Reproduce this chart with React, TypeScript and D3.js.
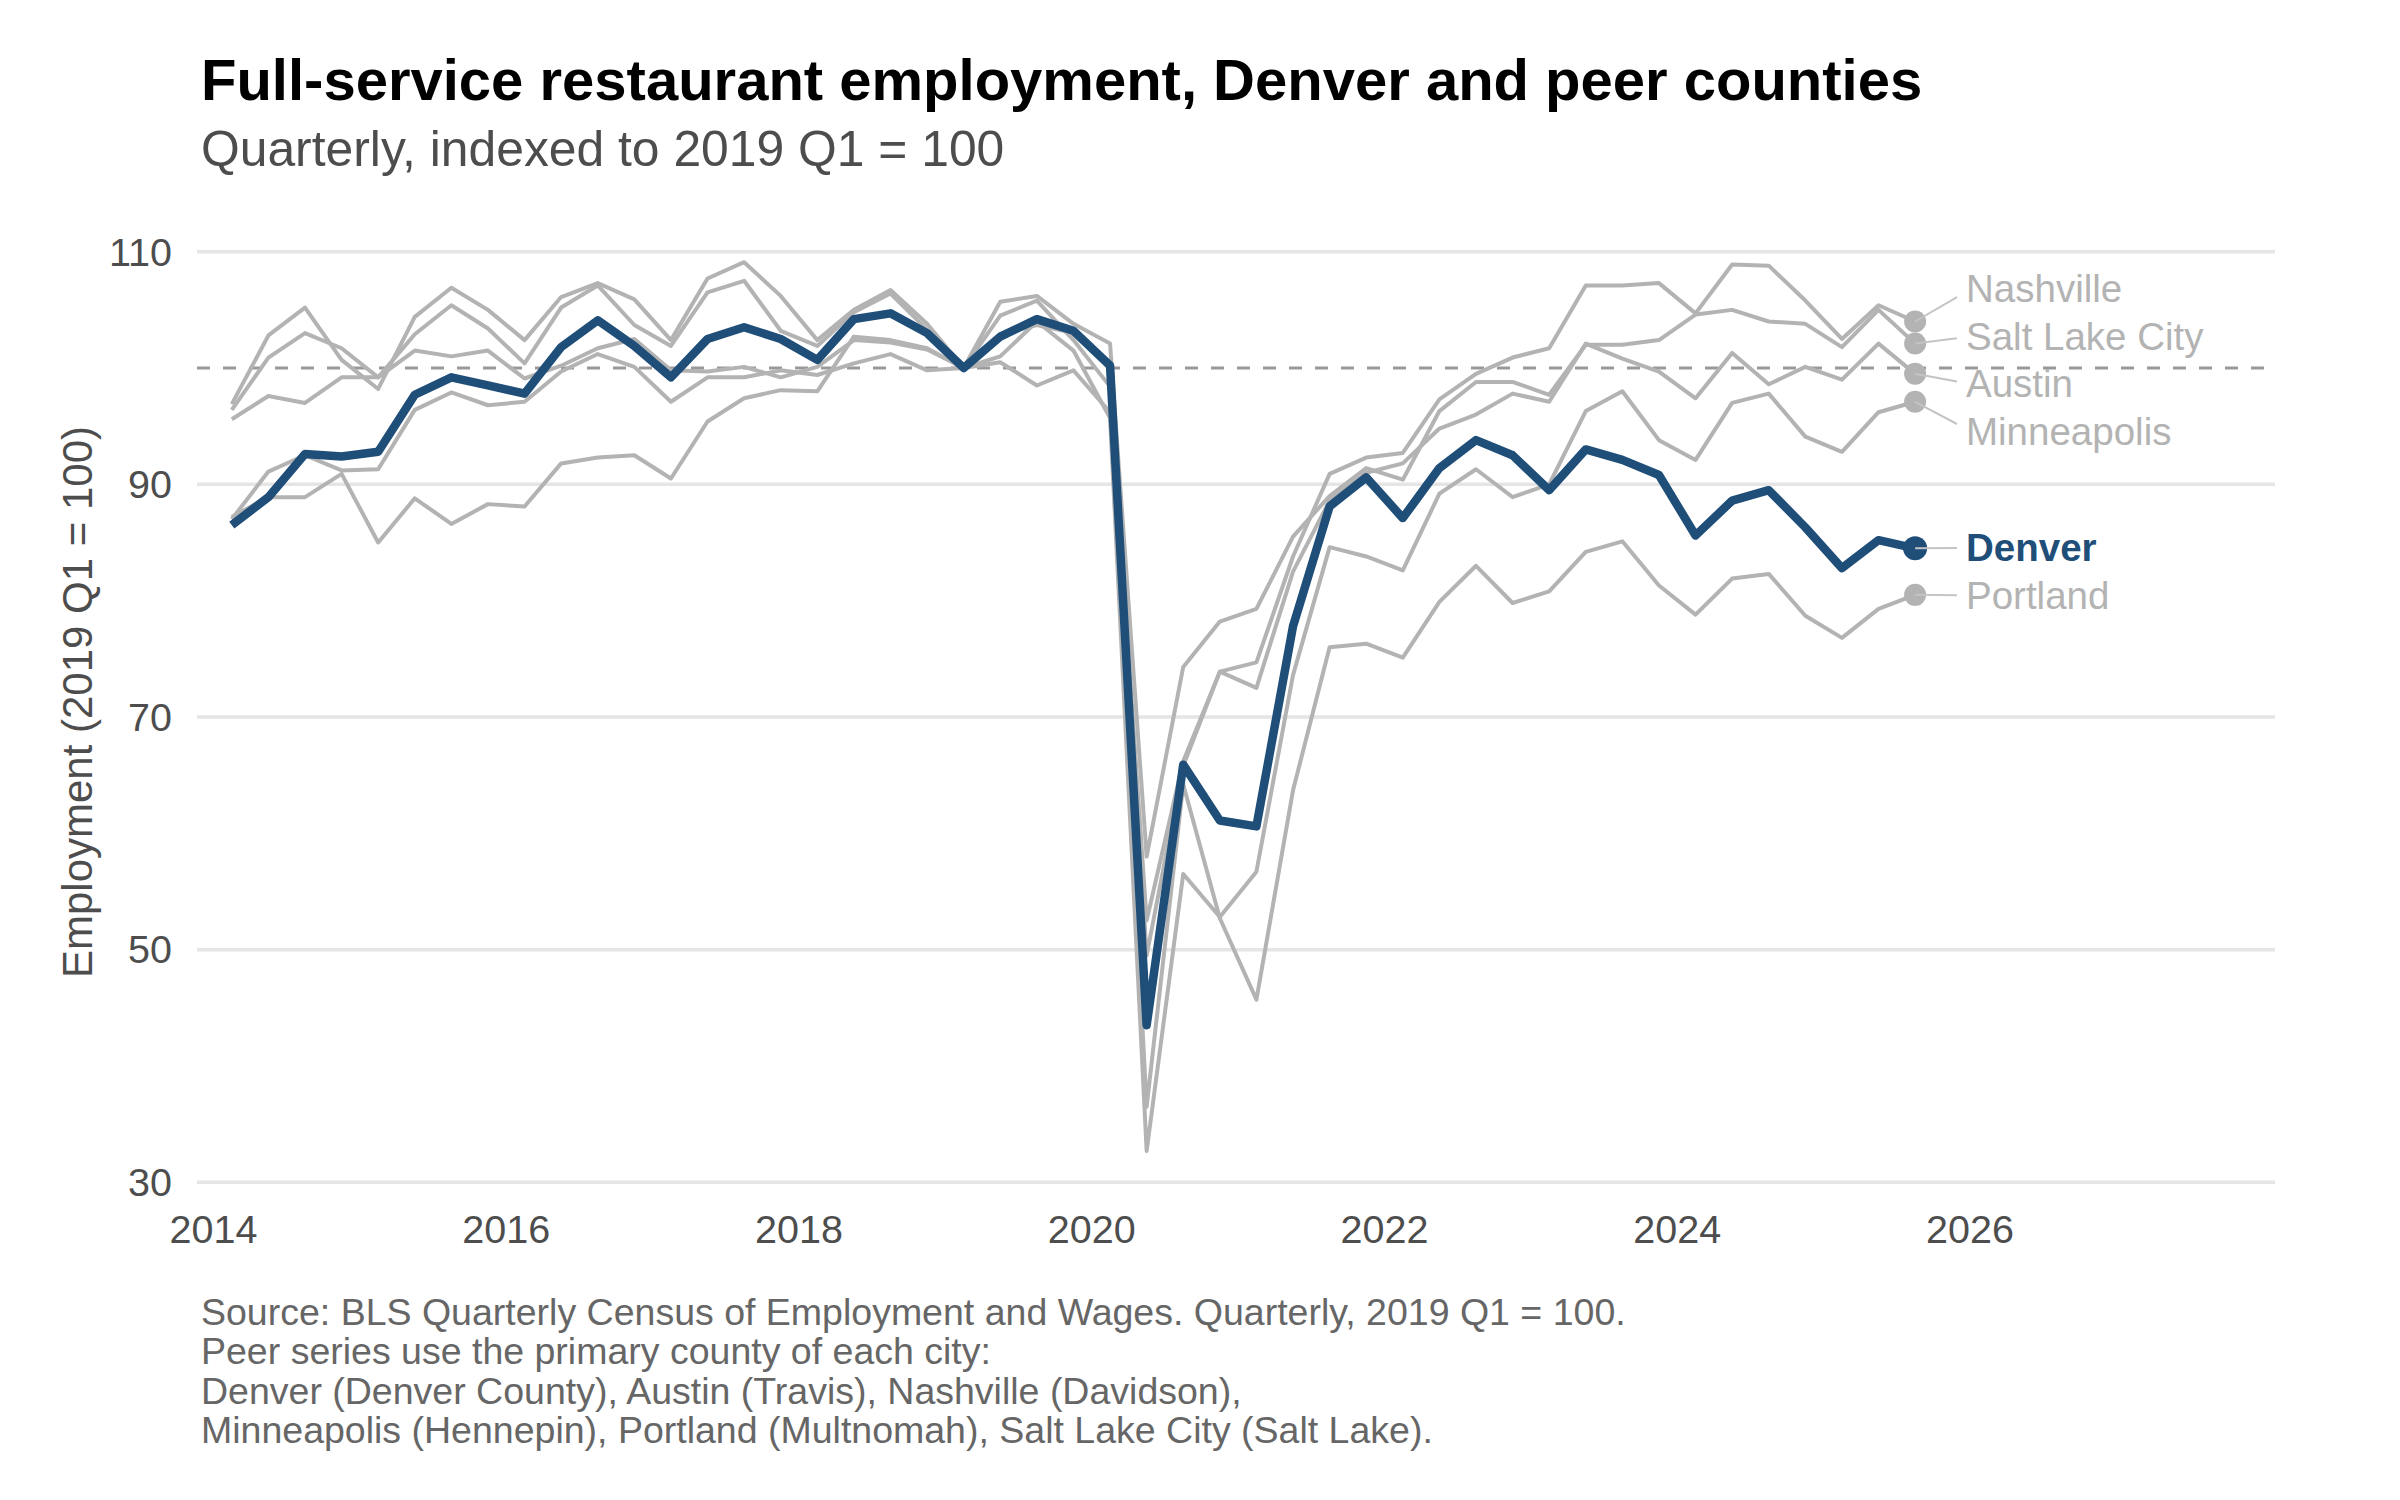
import React, { useEffect } from 'react';
import * as d3 from 'd3';

// quarters run 2014 Q1 .. 2025 Q3 (47 points)
const YEARS = [2014, 2015, 2016, 2017, 2018, 2019, 2020, 2021, 2022, 2023, 2024, 2025];
const QUARTER_NUMS = [1, 2, 3, 4];
const LAST_QUARTER = '2025 Q3';

const denver = [86.5, 88.9, 92.6, 92.4, 92.8, 97.7, 99.2, 98.5, 97.8, 101.8, 104.1, 101.9, 99.2, 102.5, 103.5, 102.5, 100.7, 104.2, 104.7, 103.0, 100.0, 102.7, 104.2, 103.2, 100.2, 43.5, 65.9, 61.1, 60.6, 77.8, 88.1, 90.6, 87.1, 91.4, 93.8, 92.5, 89.5, 93.0, 92.1, 90.8, 85.6, 88.6, 89.5, 86.3, 82.8, 85.2, 84.5];
const saltLakeCity = [96.9, 102.8, 105.2, 100.7, 98.2, 104.4, 106.9, 105.0, 102.4, 106.1, 107.3, 105.9, 102.4, 107.7, 109.1, 106.2, 102.4, 105.0, 106.7, 103.8, 100.0, 105.7, 106.2, 103.8, 102.1, 58.0, 74.3, 78.2, 79.3, 85.5, 89.0, 91.4, 90.4, 96.3, 98.8, 98.8, 97.7, 102.0, 102.0, 102.4, 104.6, 105.0, 104.0, 103.8, 101.8, 105.0, 102.1];
const nashville = [96.4, 100.9, 103.0, 101.7, 99.2, 102.9, 105.4, 103.4, 100.4, 105.2, 107.1, 103.7, 101.9, 106.5, 107.5, 103.2, 101.9, 104.8, 106.4, 103.3, 100.0, 104.5, 105.8, 102.4, 98.4, 52.5, 66.2, 73.9, 74.7, 83.8, 90.9, 92.3, 92.7, 97.3, 99.5, 100.9, 101.7, 107.1, 107.1, 107.3, 104.7, 108.9, 108.8, 105.8, 102.5, 105.4, 104.0];
const austin = [95.6, 97.6, 97.0, 99.2, 99.2, 101.5, 101.0, 101.5, 99.1, 100.2, 101.7, 102.5, 99.8, 99.7, 100.1, 99.2, 100.1, 102.4, 102.2, 101.6, 100.0, 102.9, 103.7, 103.0, 100.5, 49.5, 65.8, 73.9, 72.5, 82.5, 88.6, 91.0, 91.8, 94.8, 96.0, 97.8, 97.1, 102.1, 100.8, 99.7, 97.4, 101.3, 98.6, 100.1, 99.0, 102.1, 99.5];
const portland = [87.0, 91.1, 92.5, 91.2, 91.3, 96.4, 97.9, 96.8, 97.1, 99.7, 101.2, 100.1, 97.1, 99.2, 99.2, 99.8, 99.4, 100.4, 101.2, 99.8, 100.0, 100.5, 98.5, 99.8, 96.2, 36.5, 64.2, 52.7, 45.7, 63.7, 76.0, 76.3, 75.1, 79.9, 83.0, 79.8, 80.8, 84.2, 85.1, 81.3, 78.8, 81.9, 82.3, 78.7, 76.8, 79.3, 80.5];
const minneapolis = [87.2, 88.9, 88.9, 90.9, 85.0, 88.8, 86.6, 88.3, 88.1, 91.8, 92.3, 92.5, 90.5, 95.4, 97.4, 98.1, 98.0, 102.7, 102.4, 101.7, 100.0, 101.0, 104.0, 101.5, 95.7, 32.7, 56.5, 52.8, 56.7, 73.6, 84.6, 83.8, 82.6, 89.2, 91.3, 88.9, 90.0, 96.3, 98.0, 93.8, 92.1, 97.0, 97.8, 94.1, 92.8, 96.2, 97.1];

const Y_TICKS = [30, 50, 70, 90, 110];
const X_TICKS = [2014, 2016, 2018, 2020, 2022, 2024, 2026];
const BASELINE = 100;

const CAPTION = [
  'Source: BLS Quarterly Census of Employment and Wages. Quarterly, 2019 Q1 = 100.',
  'Peer series use the primary county of each city:',
  'Denver (Denver County), Austin (Travis), Nashville (Davidson),',
  'Minneapolis (Hennepin), Portland (Multnomah), Salt Lake City (Salt Lake).',
];

const quarters = YEARS.flatMap(y => QUARTER_NUMS.map(q => ({ year: y, q, label: `${y} Q${q}` })));
const lastIdx = quarters.findIndex(d => d.label === LAST_QUARTER);
const periods = quarters.slice(0, lastIdx + 1);

const series = [
  { name: 'Austin', values: austin, highlight: false },
  { name: 'Minneapolis', values: minneapolis, highlight: false },
  { name: 'Nashville', values: nashville, highlight: false },
  { name: 'Portland', values: portland, highlight: false },
  { name: 'Salt Lake City', values: saltLakeCity, highlight: false },
  { name: 'Denver', values: denver, highlight: true },
];

const W = 2400;
const H = 1500;
const FONT = '"Liberation Sans", Arial, Helvetica, sans-serif';
const GREY = '#b3b3b3';
const BLUE = '#1f4e79';

const x = d3.scaleLinear().domain([2014, 2026]).range([213.5, 1970]);
const y = d3.scaleLinear().domain([30, 110]).range([1182.3, 251.7]);
const panelLeft = 197;
const panelRight = 2275;

const xOf = (i: number) => x(periods[i].year + (periods[i].q - 0.5) / 4);

// push end labels apart: overlapping ones are grouped and centred on their mean
function repel(items: { name: string; y: number }[], gap: number) {
  const sorted = [...items].sort((a, b) => a.y - b.y);
  const clusters = sorted.map(d => ({ members: [d], center: d.y }));
  let merged = true;
  while (merged) {
    merged = false;
    for (let i = 0; i < clusters.length - 1; i++) {
      const a = clusters[i], b = clusters[i + 1];
      const aBottom = a.center + ((a.members.length - 1) * gap) / 2;
      const bTop = b.center - ((b.members.length - 1) * gap) / 2;
      if (bTop - aBottom < gap) {
        const members = [...a.members, ...b.members];
        clusters.splice(i, 2, { members, center: d3.mean(members, m => m.y)! });
        merged = true;
        break;
      }
    }
  }
  const out = new Map<string, number>();
  clusters.forEach(c =>
    c.members.forEach((m, j) => out.set(m.name, c.center + (j - (c.members.length - 1) / 2) * gap))
  );
  return out;
}

const App: React.FC = () => {
  useEffect(() => {
    document.body.style.margin = '0';
  }, []);

  const line = d3
    .line<number>()
    .x((_, i) => xOf(i))
    .y(d => y(d));

  const ends = series.map(s => ({ name: s.name, y: y(s.values[s.values.length - 1]) }));
  const labelY = repel(ends, 47.5);
  const lastX = xOf(periods.length - 1);
  const labelX = 1966;

  return (
    <svg width={W} height={H} style={{ display: 'block', background: '#fff' }} fontFamily={FONT}>
      <text x={201} y={100} fontSize={58} fontWeight="bold" fill="#000">
        Full-service restaurant employment, Denver and peer counties
      </text>
      <text x={201} y={166} fontSize={49.8} fill="#4d4d4d">
        Quarterly, indexed to 2019 Q1 = 100
      </text>

      {Y_TICKS.map(t => (
        <g key={t}>
          <line x1={panelLeft} x2={panelRight} y1={y(t)} y2={y(t)} stroke="#e5e5e5" strokeWidth={3.5} />
          <text x={172} y={y(t)} dy="0.35em" textAnchor="end" fontSize={39.5} fill="#4d4d4d">
            {t}
          </text>
        </g>
      ))}
      {X_TICKS.map(t => (
        <text key={t} x={x(t)} y={1243} textAnchor="middle" fontSize={39.5} fill="#4d4d4d">
          {t}
        </text>
      ))}
      <text
        transform={`translate(92, 702) rotate(-90)`}
        textAnchor="middle"
        fontSize={42}
        fill="#4d4d4d"
      >
        Employment (2019 Q1 = 100)
      </text>

      <line
        x1={panelLeft}
        x2={panelRight}
        y1={y(BASELINE)}
        y2={y(BASELINE)}
        stroke="#999"
        strokeWidth={3}
        strokeDasharray="13 13"
      />

      {series.filter(s => !s.highlight).map(s => (
        <path key={s.name} d={line(s.values)!} fill="none" stroke={GREY} strokeWidth={4} strokeLinejoin="round" />
      ))}
      {series.filter(s => s.highlight).map(s => (
        <path key={s.name} d={line(s.values)!} fill="none" stroke={BLUE} strokeWidth={8.5} strokeLinejoin="round" />
      ))}

      {series.map(s => {
        const dy = y(s.values[s.values.length - 1]);
        const ly = labelY.get(s.name)!;
        return (
          <g key={s.name}>
            <circle cx={lastX} cy={dy} r={s.highlight ? 12 : 11} fill={s.highlight ? BLUE : GREY} />
            <line
              x1={lastX}
              y1={dy}
              x2={labelX - 9}
              y2={ly + (dy - ly) * 0.25}
              stroke="#c4c4c4"
              strokeWidth={2}
            />
            <text
              x={labelX}
              y={ly}
              dy="0.35em"
              fontSize={38.5}
              fontWeight={s.highlight ? 'bold' : 'normal'}
              fill={s.highlight ? BLUE : GREY}
            >
              {s.name}
            </text>
          </g>
        );
      })}

      {CAPTION.map((c, i) => (
        <text key={i} x={201} y={1325 + i * 39.3} fontSize={37.5} fill="#666">
          {c}
        </text>
      ))}
    </svg>
  );
};

export default App;
